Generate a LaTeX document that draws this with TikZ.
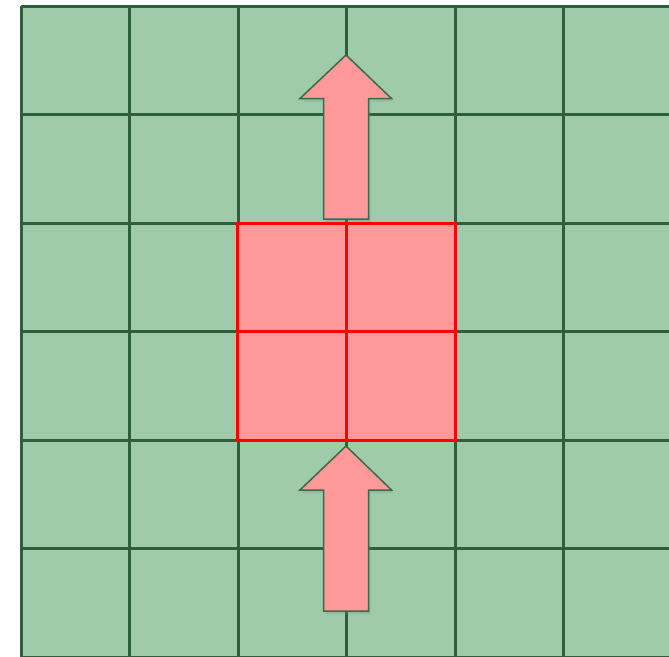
\documentclass[tikz,border=0pt]{standalone}
\usetikzlibrary{shadows}
\definecolor{cellgreen}{HTML}{A0CBAB}
\definecolor{gridgreen}{HTML}{2F5E3D}
\definecolor{cellred}{HTML}{FF9999}
\definecolor{linered}{HTML}{FF0000}
\definecolor{arrowline}{HTML}{3A6A48}
\tikzset{
  gridline/.style={draw=gridgreen, line width=3pt},
  redcell/.style={fill=cellred, draw=linered, line width=3pt},
  bigarrow/.style={fill=cellred, draw=arrowline, line width=1.5pt, line join=miter,
    drop shadow={opacity=0.25, shadow xshift=2pt, shadow yshift=-3pt}}
}
\begin{document}
\begin{tikzpicture}[x=1pt,y=-1pt]
\useasboundingbox (0,0) rectangle (669,656);
\fill[white] (0,0) rectangle (669,656);
\begin{scope}
\clip (0,0) rectangle (669,656);
\fill[cellgreen] (21,6) rectangle (680,670);
\foreach \i in {0,...,6} {
  \draw[gridline] ({21+108.5*\i},6) -- ({21+108.5*\i},670);
  \draw[gridline] (21,{6+108.5*\i}) -- (680,{6+108.5*\i});
}
% red block
\path[redcell] (237.5,223) rectangle (455,440);
\draw[linered, line width=3pt] (346,223) -- (346,440);
\draw[linered, line width=3pt] (237.5,331.5) -- (455,331.5);
% arrows
\path[bigarrow] (346,55) -- (391.5,98.5) -- (368.5,98.5) -- (368.5,219) -- (323.5,219) -- (323.5,98.5) -- (300,98.5) -- cycle;
\path[bigarrow] (346,446) -- (391.5,490) -- (368.5,490) -- (368.5,611) -- (323.5,611) -- (323.5,490) -- (300,490) -- cycle;
\end{scope}
\end{tikzpicture}
\end{document}
